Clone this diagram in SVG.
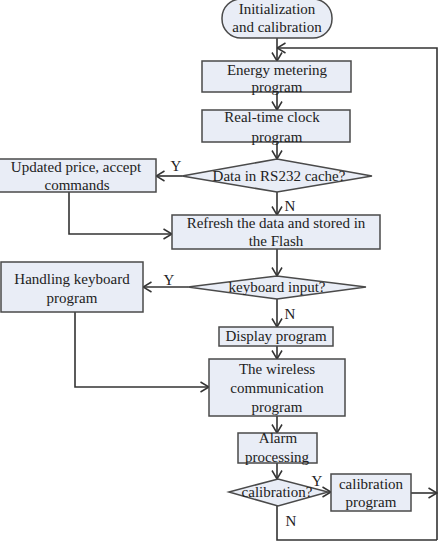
<svg xmlns="http://www.w3.org/2000/svg" width="446" height="546" viewBox="0 0 446 546">
  <style>
    .box { fill: #e9edf6; stroke: #4a4a4a; stroke-width: 1.5; }
    .ln { fill: none; stroke: #333; stroke-width: 1.6; }
    text { font-family: "Liberation Serif", "Times New Roman", serif; font-size: 15px; fill: #222; text-anchor: middle; }
  </style>
  <defs>
    <marker id="arr" viewBox="0 0 10 12" refX="9.5" refY="6" markerWidth="10" markerHeight="12" markerUnits="userSpaceOnUse" orient="auto">
      <polyline points="1,1 9.5,6 1,11" fill="none" stroke="#333" stroke-width="1.5"/>
    </marker>
  </defs>
  <rect width="446" height="546" fill="#fff"/>

  <g id="connectors">
    <line class="ln" x1="277" y1="38" x2="277" y2="61" marker-end="url(#arr)"/>
    <polyline class="ln" points="437,540 437,48 277,48" marker-end="url(#arr)"/>
    <line class="ln" x1="277" y1="92" x2="277" y2="110" marker-end="url(#arr)"/>
    <line class="ln" x1="277" y1="142" x2="277" y2="159" marker-end="url(#arr)"/>
    <line class="ln" x1="182" y1="176" x2="156" y2="176" marker-end="url(#arr)"/>
    <line class="ln" x1="277" y1="192" x2="277" y2="215" marker-end="url(#arr)"/>
    <polyline class="ln" points="69,192 69,234 172,234" marker-end="url(#arr)"/>
    <line class="ln" x1="277" y1="249" x2="277" y2="276" marker-end="url(#arr)"/>
    <line class="ln" x1="188" y1="287" x2="143" y2="287" marker-end="url(#arr)"/>
    <line class="ln" x1="277" y1="299" x2="277" y2="327" marker-end="url(#arr)"/>
    <line class="ln" x1="277" y1="346" x2="277" y2="359" marker-end="url(#arr)"/>
    <polyline class="ln" points="75,312 75,387 209,387" marker-end="url(#arr)"/>
    <line class="ln" x1="277" y1="416" x2="277" y2="433" marker-end="url(#arr)"/>
    <line class="ln" x1="277" y1="463" x2="277" y2="479" marker-end="url(#arr)"/>
    <line class="ln" x1="328" y1="492" x2="331" y2="492" marker-end="url(#arr)"/>
    <line class="ln" x1="411" y1="493" x2="437" y2="493" marker-end="url(#arr)"/>
    <polyline class="ln" points="277,506 277,540 437,540"/>
    <text x="176" y="171">Y</text>
    <text x="290" y="211">N</text>
    <text x="169" y="285">Y</text>
    <text x="290" y="319">N</text>
    <text x="317" y="486">Y</text>
    <text x="291" y="526">N</text>
  </g>

  <g id="start">
    <rect class="box" x="222" y="-1" width="110" height="39" rx="19" ry="19"/>
    <text x="277" y="14">Initialization</text>
    <text x="277" y="32">and calibration</text>
  </g>
  <g id="energy">
    <rect class="box" x="202" y="61" width="149" height="31"/>
    <text x="277" y="75">Energy metering</text>
    <text x="277" y="92">program</text>
  </g>
  <g id="clock">
    <rect class="box" x="202" y="110" width="148" height="32"/>
    <text x="272" y="122">Real-time clock</text>
    <text x="277" y="142">program</text>
  </g>
  <g id="rs232">
    <polygon class="box" points="182,176 277,159 372,176 277,192"/>
    <text x="279" y="181">Data in RS232 cache?</text>
  </g>
  <g id="price">
    <rect class="box" x="-1" y="159" width="157" height="33"/>
    <text x="76" y="172">Updated price, accept</text>
    <text x="77" y="190">commands</text>
  </g>
  <g id="refresh">
    <rect class="box" x="172" y="215" width="208" height="34"/>
    <text x="276" y="228">Refresh the data and stored in</text>
    <text x="276" y="246">the Flash</text>
  </g>
  <g id="keyboard">
    <polygon class="box" points="188,287 277,276 366,287 277,299"/>
    <text x="277" y="292">keyboard input?</text>
  </g>
  <g id="handling">
    <rect class="box" x="1" y="262" width="142" height="50"/>
    <text x="72" y="284">Handling keyboard</text>
    <text x="72" y="303">program</text>
  </g>
  <g id="display">
    <rect class="box" x="219" y="327" width="114" height="19"/>
    <text x="276" y="341">Display program</text>
  </g>
  <g id="wireless">
    <rect class="box" x="209" y="359" width="136" height="57"/>
    <text x="277" y="374">The wireless</text>
    <text x="277" y="393">communication</text>
    <text x="277" y="412">program</text>
  </g>
  <g id="alarm">
    <rect class="box" x="238" y="433" width="79" height="30"/>
    <text x="278" y="443">Alarm</text>
    <text x="277" y="462">processing</text>
  </g>
  <g id="calib">
    <polygon class="box" points="229,492 278,479 328,492 278,506"/>
    <text x="277" y="497">calibration?</text>
  </g>
  <g id="calprog">
    <rect class="box" x="331" y="474" width="80" height="37"/>
    <text x="371" y="489">calibration</text>
    <text x="371" y="507">program</text>
  </g>
</svg>
